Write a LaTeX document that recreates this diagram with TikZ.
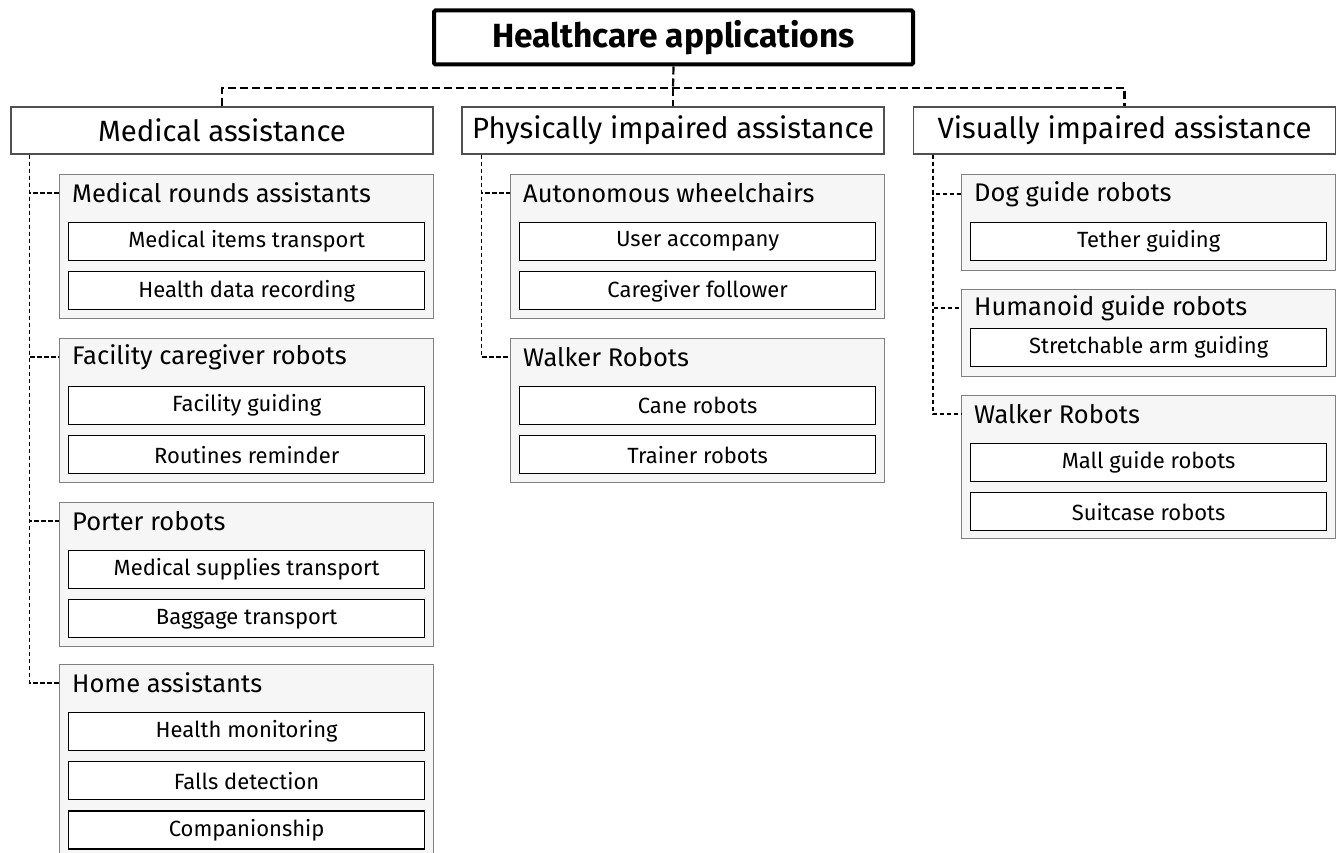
\documentclass[tikz,border=0pt]{standalone}
\usepackage{fontspec}
\setmainfont{Fira Sans}
\usetikzlibrary{positioning}
\definecolor{groupfill}{HTML}{F6F6F6}
\definecolor{groupline}{HTML}{808080}
\definecolor{catline}{HTML}{505050}

\begin{document}
\begin{tikzpicture}[x=1pt, y=-1pt, node distance=10pt,
    titlebox/.style={draw, line width=4pt, rounded corners=1.5pt, inner sep=0pt, minimum width=479pt, minimum height=54pt, font=\fontsize{33.5}{38}\selectfont\bfseries},
    catbox/.style={draw=catline, line width=1.2pt, fill=white, inner sep=0pt, minimum width=422pt, minimum height=47pt, font=\fontsize{29.3}{34}\selectfont},
    groupbox/.style={draw=groupline, line width=1.3pt, fill=groupfill, inner sep=0pt, minimum width=374pt, anchor=north west},
    grouptitle/.style={anchor=west, inner sep=0pt, font=\fontsize{25.5}{30}\selectfont},
    itembox/.style={draw, line width=1.2pt, fill=white, inner sep=0pt, minimum width=356pt, minimum height=38pt, font=\fontsize{22}{26}\selectfont},
    trunk/.style={dashed, dash pattern=on 8pt off 4pt, line width=2.2pt},
    branch/.style={dash pattern=on 4.5pt off 2.5pt, line width=1.2pt}]
  \useasboundingbox (0,0) rectangle (1344,853);

  % Title
  \node [titlebox] (title) at (673.5,37.5) {Healthcare applications};

  % Main categories
  \node [catbox] (med) at (222,130.5) {Medical assistance};
  \node [catbox] (phys) at (673,130.5) {Physically impaired assistance};
  \node [catbox] (vis) at (1124.5,130.5) {Visually impaired assistance};

  \coordinate (hub) at (673,88);
  \draw [trunk] (title.south) -- (hub);
  \draw [trunk] (med.north) |- (hub) -| (vis.north);
  \draw [trunk] (hub) -- (phys.north);

  % Medical assistance
  \node [groupbox, minimum height=144pt] (rounds) at (59,174) {};
  \node [grouptitle] (rounds-t) at ([xshift=13pt, yshift=-19pt]rounds.north west) {Medical rounds assistants};
  \node [itembox, below=48pt of rounds.north, anchor=north] (rounds1) {Medical items transport};
  \node [itembox, below=of rounds1] (rounds2) {Health data recording};

  \node [groupbox, minimum height=144pt] (facility) at (59,338) {};
  \node [grouptitle] (facility-t) at ([xshift=13pt, yshift=-19pt]facility.north west) {Facility caregiver robots};
  \node [itembox, below=48pt of facility.north, anchor=north] (facility1) {Facility guiding};
  \node [itembox, below=of facility1] (facility2) {Routines reminder};

  \node [groupbox, minimum height=144pt] (porter) at (59,502) {};
  \node [grouptitle] (porter-t) at ([xshift=13pt, yshift=-19pt]porter.north west) {Porter robots};
  \node [itembox, below=48pt of porter.north, anchor=north] (porter1) {Medical supplies transport};
  \node [itembox, below=of porter1] (porter2) {Baggage transport};

  \node [groupbox, minimum height=210pt] (home) at (59,664) {};
  \node [grouptitle] (home-t) at ([xshift=13pt, yshift=-19pt]home.north west) {Home assistants};
  \node [itembox, below=48pt of home.north, anchor=north] (home1) {Health monitoring};
  \node [itembox, below=of home1] (home2) {Falls detection};
  \node [itembox, below=of home2] (home3) {Companionship};

  \draw [branch] ([xshift=19pt]med.south west) |- (rounds-t -| rounds.west);
  \draw [branch] ([xshift=19pt]med.south west) |- (facility-t -| facility.west);
  \draw [branch] ([xshift=19pt]med.south west) |- (porter-t -| porter.west);
  \draw [branch] ([xshift=19pt]med.south west) |- (home-t -| home.west);

  % Physically impaired assistance
  \node [groupbox, minimum height=144pt] (wheel) at (510,174) {};
  \node [grouptitle] (wheel-t) at ([xshift=13pt, yshift=-19pt]wheel.north west) {Autonomous wheelchairs};
  \node [itembox, below=48pt of wheel.north, anchor=north] (wheel1) {User accompany};
  \node [itembox, below=of wheel1] (wheel2) {Caregiver follower};

  \node [groupbox, minimum height=144pt] (pwalk) at (510,338) {};
  \node [grouptitle] (pwalk-t) at ([xshift=13pt, yshift=-19pt]pwalk.north west) {Walker Robots};
  \node [itembox, below=48pt of pwalk.north, anchor=north] (pwalk1) {Cane robots};
  \node [itembox, below=of pwalk1] (pwalk2) {Trainer robots};

  \draw [branch] ([xshift=20pt]phys.south west) |- (wheel-t -| wheel.west);
  \draw [branch] ([xshift=20pt]phys.south west) |- (pwalk-t -| pwalk.west);

  % Visually impaired assistance
  \node [groupbox, minimum height=96pt] (dog) at (961,174) {};
  \node [grouptitle] (dog-t) at ([xshift=13pt, yshift=-20pt]dog.north west) {Dog guide robots};
  \node [itembox, below=48pt of dog.north, anchor=north] (dog1) {Tether guiding};

  \node [groupbox, minimum height=87pt] (human) at (961,289) {};
  \node [grouptitle] (human-t) at ([xshift=13pt, yshift=-19pt]human.north west) {Humanoid guide robots};
  \node [itembox, below=39pt of human.north, anchor=north] (human1) {Stretchable arm guiding};

  \node [groupbox, minimum height=143pt] (vwalk) at (961,395) {};
  \node [grouptitle] (vwalk-t) at ([xshift=13pt, yshift=-19pt]vwalk.north west) {Walker Robots};
  \node [itembox, below=48pt of vwalk.north, anchor=north] (vwalk1) {Mall guide robots};
  \node [itembox, below=of vwalk1] (vwalk2) {Suitcase robots};

  \draw [branch] ([xshift=20pt]vis.south west) |- (dog-t -| dog.west);
  \draw [branch] ([xshift=20pt]vis.south west) |- (human-t -| human.west);
  \draw [branch] ([xshift=20pt]vis.south west) |- (vwalk-t -| vwalk.west);
\end{tikzpicture}
\end{document}
